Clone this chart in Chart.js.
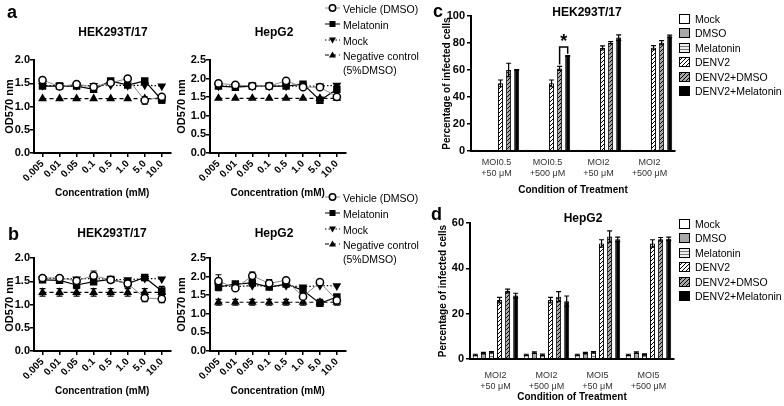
<!DOCTYPE html>
<html>
<head>
<meta charset="utf-8">
<script src="https://cdn.jsdelivr.net/npm/chart.js@4.4.1/dist/chart.umd.min.js"></script>
<style>
  body { margin:0; width:784px; height:406px; position:relative; overflow:hidden; background:#fff;
         font-family:'Liberation Sans', Arial, sans-serif; color:#000; }
  canvas { position:absolute; }
  .t { position:absolute; white-space:nowrap; line-height:1; }
  .letter { font-size:18px; font-weight:bold; }
  .title { font-size:12px; font-weight:bold; transform:translate(-50%,-50%); }
  .lg { position:absolute; white-space:nowrap; line-height:1; }
</style>
</head>
<body>
<canvas id="aHek" width="176" height="205" style="left:0;top:0"></canvas>
<canvas id="aHep" width="181" height="205" style="left:170px;top:0"></canvas>
<canvas id="bHek" width="176" height="205" style="left:0;top:198px"></canvas>
<canvas id="bHep" width="181" height="205" style="left:170px;top:198px"></canvas>
<canvas id="cBar" width="280" height="200" style="left:400px;top:0"></canvas>
<canvas id="dBar" width="280" height="206" style="left:400px;top:200px"></canvas>

<div class="t letter" style="left:7px;top:3px">a</div>
<div class="t letter" style="left:8px;top:225px">b</div>
<div class="t letter" style="left:433px;top:2px">c</div>
<div class="t letter" style="left:431px;top:205px">d</div>

<div class="t title" style="left:113px;top:32px">HEK293T/17</div>
<div class="t title" style="left:274px;top:32px">HepG2</div>
<div class="t title" style="left:112px;top:233px">HEK293T/17</div>
<div class="t title" style="left:274px;top:233px">HepG2</div>
<div class="t title" style="left:587px;top:12px">HEK293T/17</div>
<div class="t title" style="left:583px;top:218px">HepG2</div>

<script>
Chart.defaults.font.family = "'Liberation Sans', Arial, sans-serif";
Chart.defaults.color = '#000';

// ---- panels a / b : OD570 vs concentration ----
var concLabels = ['0.005', '0.01', '0.05', '0.1', '0.5', '1.0', '5.0', '10.0'];
var lineNames = ['Vehicle (DMSO)', 'Melatonin', 'Mock', 'Negative control'];

var aHekVehicle   = [1.57, 1.43, 1.48, 1.42, 1.51, 1.60, 1.13, 1.21];
var aHekVehicleSd = [0, 0, 0, 0, 0, 0, 0.08, 0];
var aHekMelatonin   = [1.44, 1.44, 1.44, 1.37, 1.55, 1.46, 1.55, 1.14];
var aHekMelatoninSd = [0, 0.03, 0, 0.04, 0, 0, 0, 0.07];
var aHekMock = [1.45, 1.45, 1.45, 1.45, 1.46, 1.45, 1.46, 1.44];
var aHekNeg  = [1.17, 1.17, 1.17, 1.17, 1.17, 1.17, 1.17, 1.17];

var aHepVehicle   = [1.87, 1.83, 1.80, 1.80, 1.94, 1.77, 1.77, 1.51];
var aHepVehicleSd = [0, 0, 0, 0, 0, 0, 0, 0.04];
var aHepMelatonin   = [1.80, 1.77, 1.80, 1.80, 1.80, 1.85, 1.42, 1.71];
var aHepMelatoninSd = [0, 0, 0, 0, 0, 0, 0, 0.08];
var aHepMock = [1.80, 1.80, 1.80, 1.80, 1.80, 1.80, 1.80, 1.82];
var aHepNeg  = [1.47, 1.47, 1.47, 1.47, 1.47, 1.47, 1.47, 1.47];

var bHekVehicle   = [1.57, 1.57, 1.51, 1.62, 1.53, 1.45, 1.14, 1.12];
var bHekVehicleSd = [0.03, 0.03, 0.04, 0.10, 0.03, 0.07, 0.08, 0.08];
var bHekMelatonin   = [1.53, 1.52, 1.42, 1.49, 1.54, 1.45, 1.58, 1.29];
var bHekMelatoninSd = [0.03, 0.04, 0.05, 0.06, 0.03, 0.05, 0.02, 0.10];
var bHekMock = [1.56, 1.56, 1.55, 1.56, 1.54, 1.53, 1.56, 1.55];
var bHekNeg   = [1.26, 1.26, 1.26, 1.26, 1.26, 1.26, 1.26, 1.26];
var bHekNegSd = [0.08, 0.08, 0.08, 0.08, 0.08, 0.08, 0.08, 0.08];

var bHepVehicle   = [1.88, 1.69, 2.02, 1.82, 1.90, 1.46, 1.85, 1.36];
var bHepVehicleSd = [0.17, 0.06, 0.10, 0.10, 0.06, 0.06, 0.05, 0.06];
var bHepMelatonin   = [1.72, 1.80, 1.83, 1.72, 1.80, 1.63, 1.28, 1.45];
var bHepMelatoninSd = [0.10, 0.06, 0.06, 0.05, 0.04, 0.10, 0.08, 0.05];
var bHepMock = [1.75, 1.73, 1.76, 1.74, 1.76, 1.72, 1.76, 1.75];
var bHepNeg   = [1.31, 1.31, 1.31, 1.31, 1.31, 1.31, 1.31, 1.31];
var bHepNegSd = [0.08, 0.08, 0.08, 0.08, 0.08, 0.08, 0.08, 0.08];

// ---- panels c / d : percentage of infected cells ----
var treatNames = ['Mock', 'DMSO', 'Melatonin', 'DENV2', 'DENV2+DMSO', 'DENV2+Melatonin'];

var cGroups = [['MOI0.5', '+50 \u03bcM'], ['MOI0.5', '+500 \u03bcM'], ['MOI2', '+50 \u03bcM'], ['MOI2', '+500 \u03bcM']];
var cMock      = [1.0, 1.0, 1.0, 1.0];
var cDmso      = [0.5, 0.5, 0.5, 0.5];
var cMelatonin = [0.5, 0.5, 0.5, 0.5];
var cDenv      = [50.1, 50.1, 76.3, 76.5];
var cDenvDmso  = [60.0, 61.2, 80.3, 80.2];
var cDenvMel   = [60.0, 70.3, 84.0, 85.0];
var cDenvSd     = [2.5, 2.5, 1.5, 1.5];
var cDenvDmsoSd = [5.0, 1.5, 0.8, 1.5];
var cDenvMelSd  = [0.3, 0.3, 2.0, 0.8];

var dGroups = [['MOI2', '+50 \u03bcM'], ['MOI2', '+500 \u03bcM'], ['MOI5', '+50 \u03bcM'], ['MOI5', '+500 \u03bcM']];
var dMock      = [1.8, 1.8, 1.8, 1.8];
var dDmso      = [2.6, 2.8, 2.6, 2.8];
var dMelatonin = [3.0, 1.9, 3.0, 2.0];
var dSmallSd   = [0.3, 0.3, 0.3, 0.3];
var dDenv      = [26.0, 26.0, 51.0, 51.0];
var dDenvDmso  = [30.0, 27.5, 54.0, 52.8];
var dDenvMel   = [28.0, 25.5, 52.8, 53.0];
var dDenvSd     = [1.2, 1.2, 1.6, 1.6];
var dDenvDmsoSd = [0.8, 2.2, 2.5, 0.8];
var dDenvMelSd  = [1.0, 2.3, 1.0, 0.8];

// significance mark in c (values in % units)
var cSig = { index: 1, from: 4, to: 5, top: 77, leftEnd: 64, rightEnd: 72, label: '*' };

// ---- drawing helpers ----
function drawErrors(chart) {
  var ctx = chart.ctx, ys = chart.scales.y;
  var cap = chart.config.type === 'bar' ? 2.5 : 3;
  chart.data.datasets.forEach(function(ds, i) {
    if (!ds.errors) return;
    var meta = chart.getDatasetMeta(i);
    ctx.save();
    ctx.strokeStyle = '#000';
    ctx.lineWidth = 1.2;
    meta.data.forEach(function(el, j) {
      var e = ds.errors[j];
      if (!e) return;
      var v = ds.data[j];
      var yt = ys.getPixelForValue(v + e), yb = ys.getPixelForValue(v - e);
      ctx.beginPath();
      ctx.moveTo(el.x, yt); ctx.lineTo(el.x, yb);
      ctx.moveTo(el.x - cap, yt); ctx.lineTo(el.x + cap, yt);
      ctx.moveTo(el.x - cap, yb); ctx.lineTo(el.x + cap, yb);
      ctx.stroke();
    });
    ctx.restore();
  });
}

var errorPlugin = {
  id: 'errbars',
  beforeDatasetsDraw: function(chart) { if (chart.config.type === 'line') drawErrors(chart); },
  afterDatasetsDraw: function(chart) { if (chart.config.type === 'bar') drawErrors(chart); }
};

var sigPlugin = {
  id: 'sig',
  afterDatasetsDraw: function(chart, args, o) {
    if (!o || !o.label) return;
    var ys = chart.scales.y, ctx = chart.ctx;
    var a = chart.getDatasetMeta(o.from).data[o.index];
    var b = chart.getDatasetMeta(o.to).data[o.index];
    var yTop = ys.getPixelForValue(o.top);
    ctx.save();
    ctx.strokeStyle = '#000';
    ctx.lineWidth = 1.5;
    ctx.beginPath();
    ctx.moveTo(a.x, ys.getPixelForValue(o.leftEnd));
    ctx.lineTo(a.x, yTop);
    ctx.lineTo(b.x, yTop);
    ctx.lineTo(b.x, ys.getPixelForValue(o.rightEnd));
    ctx.stroke();
    ctx.fillStyle = '#000';
    ctx.font = "bold 18px 'Liberation Sans', Arial";
    ctx.textAlign = 'center';
    ctx.textBaseline = 'middle';
    ctx.fillText(o.label, (a.x + b.x) / 2, yTop - 5);
    ctx.restore();
  }
};

var lineStyles = [
  { line: '#8a8a8a', width: 1,   dash: [],       marker: 'circle',   radius: 3.6, rot: 0,   fill: '#fff' },
  { line: '#000',    width: 1.2, dash: [],       marker: 'rect',     radius: 4.2, rot: 0,   fill: '#000' },
  { line: '#000',    width: 1.2, dash: [1.5, 2], marker: 'triangle', radius: 3.6, rot: 180, fill: '#000' },
  { line: '#000',    width: 1.2, dash: [4, 3],   marker: 'triangle', radius: 3.6, rot: 0,   fill: '#000' }
];

function axisCommon() {
  return {
    grid: { display: true, drawOnChartArea: false, drawTicks: true, tickLength: 4, color: '#000', lineWidth: 1.5 },
    border: { display: true, color: '#000', width: 2 }
  };
}

function lineChart(id, series, errs, yMax, yw, titlePad) {
  var datasets = series.map(function(d, i) {
    var s = lineStyles[i];
    return {
      label: lineNames[i], data: d, errors: errs[i],
      borderColor: s.line, borderWidth: s.width, borderDash: s.dash,
      pointStyle: s.marker, pointRadius: s.radius, pointRotation: s.rot,
      pointBackgroundColor: s.fill, pointBorderColor: '#000', pointBorderWidth: 1.5,
      tension: 0, fill: false
    };
  });
  var x = axisCommon(), y = axisCommon();
  x.offset = true;
  x.ticks = { minRotation: 45, maxRotation: 45, autoSkip: false, padding: 1, font: { size: 10, weight: 'bold' } };
  x.title = { display: true, text: 'Concentration (mM)', font: { size: 10, weight: 'bold' }, padding: { top: 0, bottom: 6 } };
  x.afterFit = function(s) { s.height = 52; };
  y.min = 0; y.max = yMax;
  y.ticks = { stepSize: 0.5, padding: 0, font: { size: 11, weight: 'bold' }, callback: function(v) { return v.toFixed(1); } };
  y.title = { display: true, text: 'OD570 nm', font: { size: 11, weight: 'bold' }, padding: { top: titlePad, bottom: 0 } };
  y.afterFit = function(s) { s.width = yw; };
  return new Chart(document.getElementById(id), {
    type: 'line',
    data: { labels: concLabels, datasets: datasets },
    options: {
      responsive: false, animation: false, events: [],
      layout: { padding: { top: 60, right: 2, bottom: 0, left: 0 } },
      plugins: { legend: { display: false }, tooltip: { enabled: false } },
      scales: { x: x, y: y }
    },
    plugins: [errorPlugin]
  });
}

function hatch(bg, kind) {
  var c = document.createElement('canvas');
  var s = kind === 'horiz' ? 3 : 4;
  c.width = s; c.height = s;
  var g = c.getContext('2d');
  g.fillStyle = bg; g.fillRect(0, 0, s, s);
  if (kind === 'diag') {
    g.strokeStyle = '#000'; g.lineWidth = 1;
    g.beginPath();
    g.moveTo(-1, s + 1); g.lineTo(s + 1, -1);
    g.moveTo(-1, 1); g.lineTo(1, -1);
    g.moveTo(s - 1, s + 1); g.lineTo(s + 1, s - 1);
    g.stroke();
  } else if (kind === 'horiz') {
    g.fillStyle = '#7a7a7a'; g.fillRect(0, 0, s, 1);
  }
  return g.createPattern(c, 'repeat');
}

var barFills = ['#ffffff', '#a8a8a8', hatch('#eeeeee', 'horiz'), hatch('#ffffff', 'diag'), hatch('#a8a8a8', 'diag'), '#000000'];

function barChart(id, groups, series, errs, yMax, yStep, o, sig) {
  var datasets = series.map(function(d, i) {
    return {
      label: treatNames[i], data: d, errors: errs[i],
      backgroundColor: barFills[i], borderColor: '#000', borderWidth: 1,
      categoryPercentage: 0.95, barPercentage: 0.62
    };
  });
  var x = axisCommon(), y = axisCommon();
  x.grid.drawTicks = false;
  x.ticks = { maxRotation: 0, autoSkip: false, padding: o.tickPad, color: '#333', font: { size: 9, lineHeight: 1.25 } };
  x.title = { display: true, text: 'Condition of Treatment', font: { size: 10, weight: 'bold' }, padding: { top: 0, bottom: o.xTitlePad } };
  x.afterFit = function(s) { s.height = o.xh; };
  y.min = 0; y.max = yMax;
  y.ticks = { stepSize: yStep, padding: 2, font: { size: 11, weight: 'bold' } };
  y.title = { display: true, text: 'Percentage of infected cells', font: { size: 10, weight: 'bold' }, padding: { top: o.yTitlePad, bottom: 0 } };
  y.afterFit = function(s) { s.width = o.yw; };
  return new Chart(document.getElementById(id), {
    type: 'bar',
    data: { labels: groups, datasets: datasets },
    options: {
      responsive: false, animation: false, events: [],
      layout: { padding: { top: o.top, right: o.right, bottom: 0, left: 0 } },
      plugins: { legend: { display: false }, tooltip: { enabled: false }, sig: sig || {} },
      scales: { x: x, y: y }
    },
    plugins: [errorPlugin, sigPlugin]
  });
}

// ---- charts ----
lineChart('aHek', [aHekVehicle, aHekMelatonin, aHekMock, aHekNeg], [aHekVehicleSd, aHekMelatoninSd, null, null], 2.0, 34, 3.5);
lineChart('aHep', [aHepVehicle, aHepMelatonin, aHepMock, aHepNeg], [aHepVehicleSd, aHepMelatoninSd, null, null], 2.5, 40, 5);
lineChart('bHek', [bHekVehicle, bHekMelatonin, bHekMock, bHekNeg], [bHekVehicleSd, bHekMelatoninSd, null, bHekNegSd], 2.0, 34, 3.5);
lineChart('bHep', [bHepVehicle, bHepMelatonin, bHepMock, bHepNeg], [bHepVehicleSd, bHepMelatoninSd, null, bHepNegSd], 2.5, 40, 5);

barChart('cBar', cGroups, [cMock, cDmso, cMelatonin, cDenv, cDenvDmso, cDenvMel],
  [null, null, null, cDenvSd, cDenvDmsoSd, cDenvMelSd], 100, 20,
  { top: 16, right: 5, yw: 71, xh: 49, tickPad: 6, xTitlePad: 4, yTitlePad: 41 }, cSig);
barChart('dBar', dGroups, [dMock, dDmso, dMelatonin, dDenv, dDenvDmso, dDenvMel],
  [dSmallSd, dSmallSd, dSmallSd, dDenvSd, dDenvDmsoSd, dDenvMelSd], 60, 20,
  { top: 23, right: 6, yw: 70, xh: 47, tickPad: 11, xTitlePad: 3, yTitlePad: 37 });

// ---- legends ----
function drawMarker(g, s, cx, cy) {
  g.setLineDash([]);
  g.lineWidth = 1.5; g.strokeStyle = '#000'; g.fillStyle = s.fill;
  g.beginPath();
  if (s.marker === 'circle') {
    g.arc(cx, cy, 3.2, 0, Math.PI * 2); g.fill(); g.stroke();
  } else if (s.marker === 'rect') {
    g.fillRect(cx - 3, cy - 3, 6, 6);
  } else {
    var d = s.rot ? -1 : 1;
    g.moveTo(cx, cy - 3.5 * d); g.lineTo(cx + 3.5, cy + 2.5 * d); g.lineTo(cx - 3.5, cy + 2.5 * d);
    g.closePath(); g.fill();
  }
}

function lineLegend(top) {
  var rows = [8, 24, 40, 55];
  lineNames.forEach(function(name, i) {
    var s = lineStyles[i];
    var cv = document.createElement('canvas');
    cv.width = 15; cv.height = 12;
    cv.style.left = '325px'; cv.style.top = (top + rows[i] - 6) + 'px';
    document.body.appendChild(cv);
    var g = cv.getContext('2d');
    g.strokeStyle = s.line; g.lineWidth = 1; g.setLineDash(s.dash);
    g.beginPath(); g.moveTo(0, 6); g.lineTo(15, 6); g.stroke();
    drawMarker(g, s, 7.5, 6);
    var t = document.createElement('div');
    t.className = 'lg';
    t.style.left = '343px'; t.style.top = (top + rows[i] - 6) + 'px';
    t.style.fontSize = '10.5px'; t.style.lineHeight = '14px';
    t.innerHTML = name === 'Negative control' ? 'Negative control<br>(5%DMSO)' : name;
    document.body.appendChild(t);
  });
}

function barLegend(top) {
  treatNames.forEach(function(name, i) {
    var y = top + i * 14.4;
    var cv = document.createElement('canvas');
    cv.width = 11; cv.height = 10;
    cv.style.left = '679px'; cv.style.top = Math.round(y - 5) + 'px';
    document.body.appendChild(cv);
    var g = cv.getContext('2d');
    g.fillStyle = barFills[i]; g.fillRect(0, 0, 11, 10);
    g.strokeStyle = '#000'; g.lineWidth = 1; g.strokeRect(0.5, 0.5, 10, 9);
    var t = document.createElement('div');
    t.className = 'lg';
    t.style.left = '695px'; t.style.top = Math.round(y - 6) + 'px';
    t.style.fontSize = '10.5px'; t.style.lineHeight = '12px';
    t.textContent = name;
    document.body.appendChild(t);
  });
}

lineLegend(0);
lineLegend(189);
barLegend(19);
barLegend(224);
</script>
</body>
</html>
